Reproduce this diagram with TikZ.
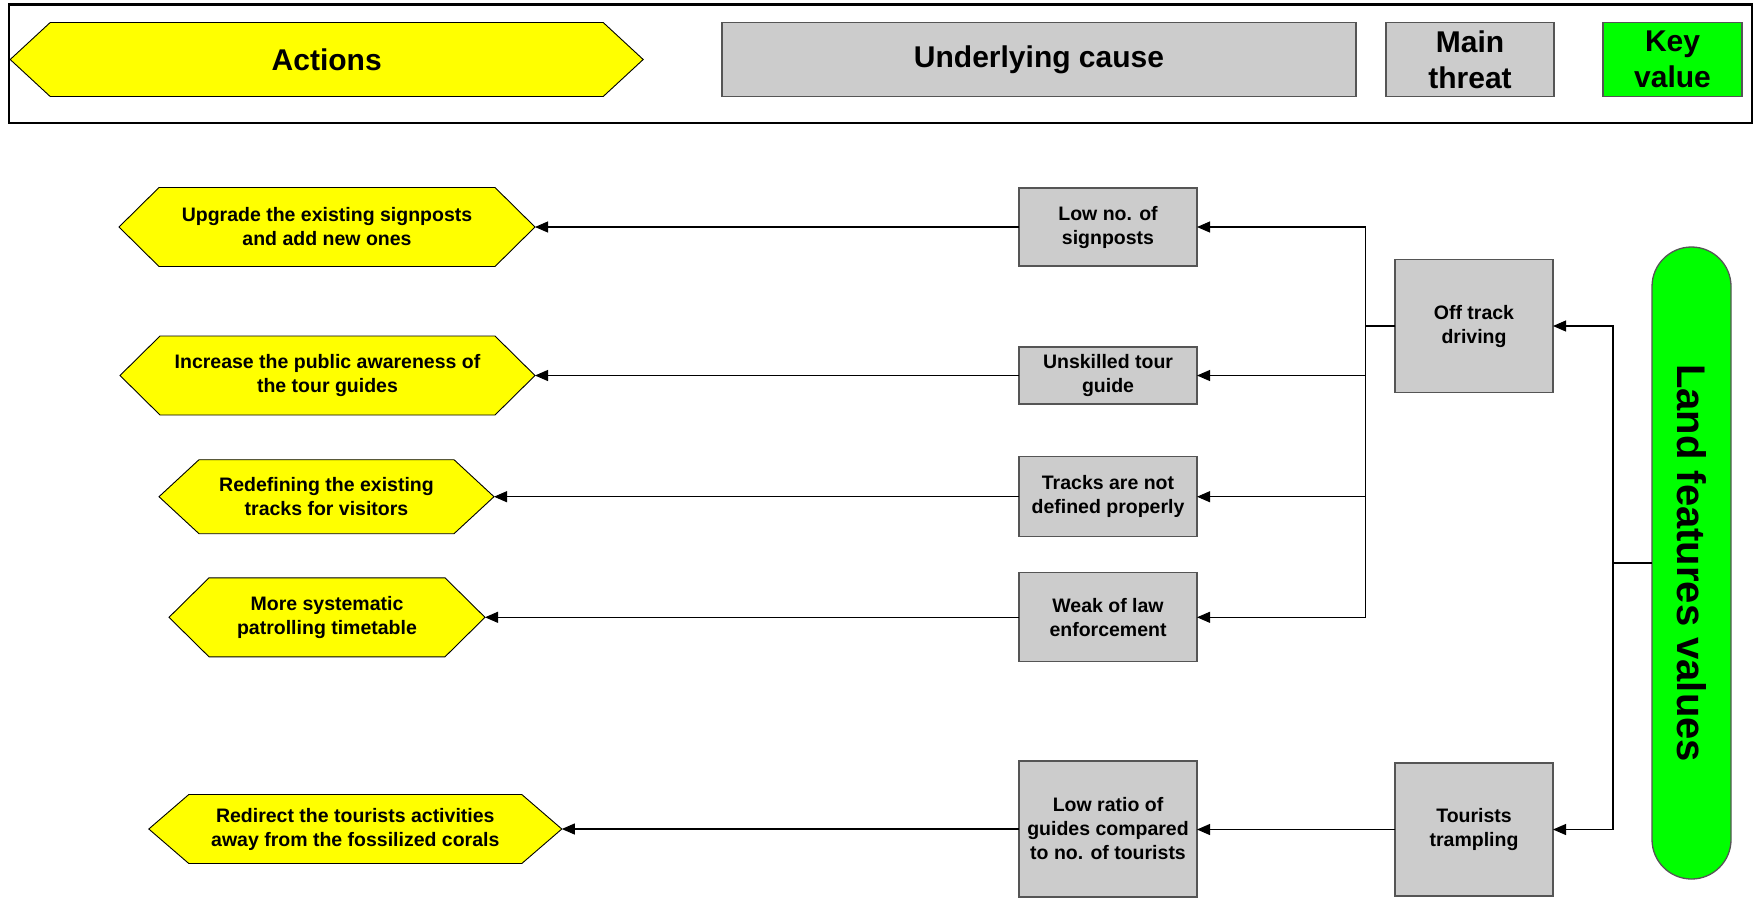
\documentclass[tikz,border=0pt]{standalone}
\usepackage{fontspec}
\setmainfont{Liberation Sans}
\usetikzlibrary{arrows.meta,backgrounds}
\definecolor{actfill}{RGB}{255,255,0}
\definecolor{boxfill}{RGB}{204,204,204}
\definecolor{keyfill}{RGB}{0,255,0}
\definecolor{boxline}{RGB}{85,85,85}

\begin{document}
\begin{tikzpicture}[x=1pt,y=-1pt,
  every node/.style={inner sep=0pt, outer sep=0pt},
  body/.style={font=\bfseries\fontsize{19.5}{24}\selectfont, align=center},
  legend/.style={font=\bfseries\fontsize{30}{36}\selectfont, align=center},
  hexbox/.style={body},
  greybox/.style={body, draw=boxline, fill=boxfill, line width=1.3pt},
  link/.style={line width=1.1pt, -{Triangle[length=13pt,width=11pt]}},
  hexline/.style={draw=black, fill=actfill, line width=0.9pt},
]
\useasboundingbox (0,0) rectangle (1755,898);

% legend strip
\node[draw, line width=2.2pt, minimum width=1743pt, minimum height=118.5pt] (frame) at (880.5,63.75) {};
\node[legend, minimum width=633pt, minimum height=74pt] (act) at (326.7,59.5) {Actions};
\node[legend, draw=boxline, fill=boxfill, line width=1.3pt, minimum width=634pt, minimum height=74pt] (under) at (1039,59.5) {Underlying cause};
\node[legend, draw=boxline, fill=boxfill, line width=1.3pt, minimum width=168pt, minimum height=74pt] (mainth) at (1470,59.5) {Main\\threat};
\node[legend, draw=boxline, fill=keyfill, line width=1.3pt, minimum width=139pt, minimum height=74pt] (keyv) at (1672.5,59.5) {Key\\value};

% key value
\node[draw=boxline, fill=keyfill, line width=1.3pt, minimum width=79pt, minimum height=632pt, rounded corners=39.5pt] (land) at (1691.5,563) {};
\node[rotate=-90, font=\bfseries\fontsize{40}{48}\selectfont] (landtxt) at (land.center) {Land features values};

% main threats
\node[greybox, minimum width=158pt, minimum height=133pt] (off) at (1474,326) {Off track\\driving};
\node[greybox, minimum width=158pt, minimum height=133pt] (tour) at (1474,829.5) {Tourists\\trampling};

% underlying causes
\node[greybox, minimum width=178pt, minimum height=78pt] (c1) at (1108,227) {Low no. of\\signposts};
\node[greybox, minimum width=178pt, minimum height=57pt] (c2) at (1108,375.5) {Unskilled tour\\guide};
\node[greybox, minimum width=178pt, minimum height=80pt] (c3) at (1108,496.7) {Tracks are not\\defined properly};
\node[greybox, minimum width=178pt, minimum height=89pt] (c4) at (1108,617.3) {Weak of law\\enforcement};
\node[greybox, minimum width=178pt, minimum height=136pt] (c5) at (1108,829) {Low ratio of\\guides compared\\to no. of tourists};

% actions
\node[hexbox, minimum width=416pt, minimum height=79pt] (a1) at (327,227) {Upgrade the existing signposts\\and add new ones};
\node[hexbox, minimum width=415pt, minimum height=79pt] (a2) at (327.5,375.5) {Increase the public awareness of\\the tour guides};
\node[hexbox, minimum width=335pt, minimum height=74pt] (a3) at (326.5,496.7) {Redefining the existing\\tracks for visitors};
\node[hexbox, minimum width=316pt, minimum height=79pt] (a4) at (327,617.3) {More systematic\\patrolling timetable};
\node[hexbox, minimum width=413pt, minimum height=69pt] (a5) at (355.3,829) {Redirect the tourists activities\\away from the fossilized corals};

\begin{scope}[on background layer]
  \foreach \h in {act,a1,a2,a3,a4,a5}
    \path[hexline] (\h.west) -- ([xshift=40pt]\h.north west) -- ([xshift=-40pt]\h.north east)
      -- (\h.east) -- ([xshift=-40pt]\h.south east) -- ([xshift=40pt]\h.south west) -- cycle;
\end{scope}

% bus junctions
\coordinate (busL) at (1365.6,326);
\coordinate (busR) at (1613,563);

% key value -> threats
\draw[link] (land.west) -- (busR) |- (off.east);
\draw[link] (land.west) -- (busR) |- (tour.east);

% threats -> causes
\foreach \c in {c1,c2,c3,c4}
  \draw[link] (off.west) -- (busL) |- (\c.east);
\draw[link] (tour.west) -- (tour.west -| c5.east);

% causes -> actions
\foreach \c/\a in {c1/a1,c2/a2,c3/a3,c4/a4,c5/a5}
  \draw[link] (\c.west) -- (\c.west -| \a.east);
\end{tikzpicture}
\end{document}
